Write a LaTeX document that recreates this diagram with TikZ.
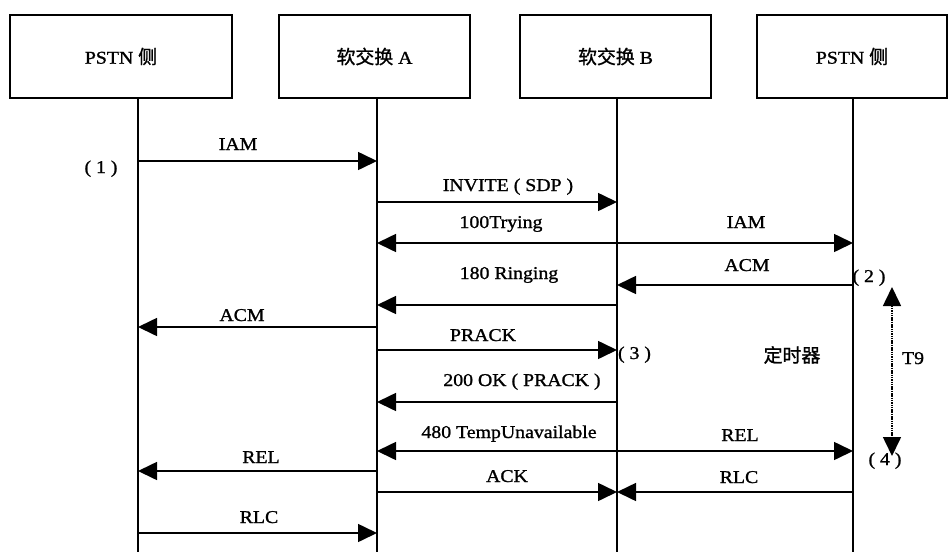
\documentclass[tikz,border=0pt]{standalone}
\usepackage{fontspec}
\setmainfont{Liberation Serif}[FakeStretch=1.1,FakeBold=1.2]
\newfontfamily\cjk{Noto Sans CJK SC}[Scale=1.05,FakeBold=1.2]
\usetikzlibrary{arrows.meta}
\begin{document}
\begin{tikzpicture}[x=1pt,y=-1pt,
  font=\fontsize{18}{21}\selectfont,
  actor/.style={draw, line width=1.8pt, inner sep=0pt, minimum height=83pt},
  life/.style={line width=1.8pt},
  msg/.style={line width=1.6pt, -{Triangle[length=19pt,width=18pt]}},
  lbl/.style={anchor=base, inner sep=0pt},
  timer/.style={line width=1.6pt, dash pattern=on 1.5pt off 0.8pt,
    {Triangle[length=19pt,width=18pt]}-{Triangle[length=19pt,width=18pt]}}
]
\useasboundingbox (0,0) rectangle (948,552);
% actors
\node[actor, minimum width=222pt] (P1) at (121,56.5) {PSTN {\cjk 侧}};
\node[actor, minimum width=191pt] (SA) at (374.5,56.5) {{\cjk 软交换} A};
\node[actor, minimum width=191pt] (SB) at (615.5,56.5) {{\cjk 软交换} B};
\node[actor, minimum width=190pt] (P2) at (852,56.5) {PSTN {\cjk 侧}};
% lifelines
\coordinate (L1) at (138,98);
\coordinate (L2) at (377,98);
\coordinate (L3) at (617,98);
\coordinate (L4) at (853,98);
\foreach \l in {L1,L2,L3,L4} \draw[life] (\l) -- (\l |- 0,552);
% messages
\draw[msg] (L1 |- 0,161) -- (L2 |- 0,161);
\draw[msg] (L2 |- 0,202) -- (L3 |- 0,202);
\draw[msg] (L3 |- 0,243) -- (L2 |- 0,243);
\draw[msg] (L3 |- 0,243) -- (L4 |- 0,243);
\draw[msg] (L4 |- 0,285) -- (L3 |- 0,285);
\draw[msg] (L3 |- 0,305) -- (L2 |- 0,305);
\draw[msg] (L2 |- 0,327) -- (L1 |- 0,327);
\draw[msg] (L2 |- 0,350) -- (L3 |- 0,350);
\draw[msg] (L3 |- 0,402) -- (L2 |- 0,402);
\draw[msg] (L3 |- 0,451) -- (L2 |- 0,451);
\draw[msg] (L3 |- 0,451) -- (L4 |- 0,451);
\draw[msg] (L2 |- 0,471) -- (L1 |- 0,471);
\draw[msg] (L2 |- 0,492) -- (L3 |- 0,492);
\draw[msg] (L4 |- 0,492) -- (L3 |- 0,492);
\draw[msg] (L1 |- 0,533) -- (L2 |- 0,533);
% timer
\coordinate (T9a) at (892,287);
\coordinate (T9b) at (892,456);
\draw[timer] (T9a) -- (T9b);
% labels
\node[lbl] (m1) at (238,150) {IAM};
\node[lbl] (m2) at (508,191) {INVITE ( SDP )};
\node[lbl] (m3) at (501,228) {100Trying};
\node[lbl] (m4) at (746,228) {IAM};
\node[lbl] (m5) at (747,271) {ACM};
\node[lbl] (m6) at (509,279) {180 Ringing};
\node[lbl] (m7) at (242,321) {ACM};
\node[lbl] (m8) at (483,341) {PRACK};
\node[lbl] (m9) at (522,386) {200 OK ( PRACK )};
\node[lbl] (m10) at (509,438) {480 TempUnavailable};
\node[lbl] (m11) at (740,441) {REL};
\node[lbl] (m12) at (261,463) {REL};
\node[lbl] (m13) at (507,482) {ACK};
\node[lbl] (m14) at (739,483) {RLC};
\node[lbl] (m15) at (259,523) {RLC};
\node[lbl] (s1) at (101,173) {( 1 )};
\node[lbl] (s2) at (869,282) {( 2 )};
\node[lbl] (s3) at (634.5,359) {( 3 )};
\node[lbl] (s4) at (885,465) {( 4 )};
\node (tm) at (792,355) {\cjk 定时器};
\node[lbl] (t9) at (913,364) {T9};
\end{tikzpicture}
\end{document}
